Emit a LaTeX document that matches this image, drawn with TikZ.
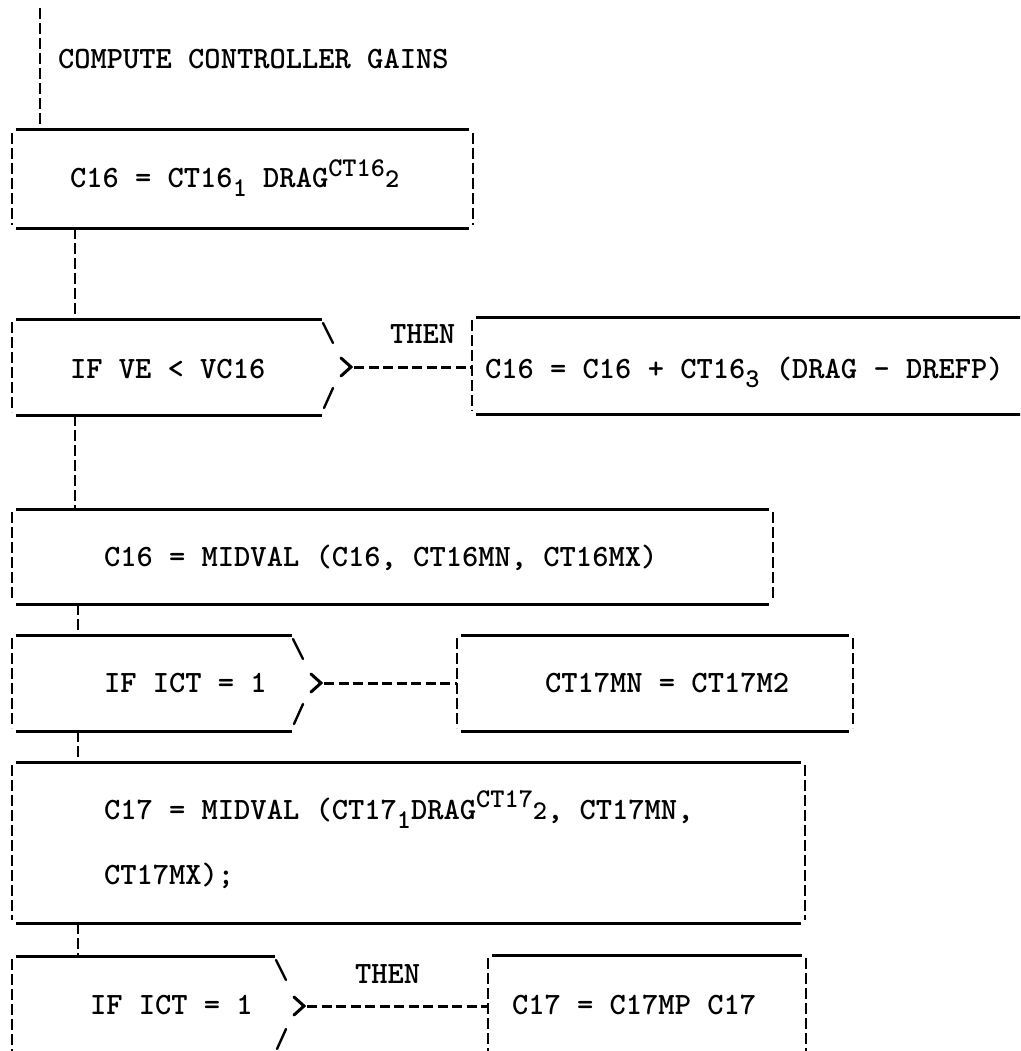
\documentclass[tikz,border=0pt]{standalone}
\usetikzlibrary{calc}
\newcommand\smallch[1]{{\fontsize{27}{27}\selectfont #1}}
\newcommand\lo[1]{\raisebox{-9pt}{\smallch{#1}}}
\newcommand\hi[1]{\raisebox{12pt}{\smallch{#1}}}
\tikzset{
  hrule/.style={line width=3pt, shorten <=4pt, shorten >=4pt},
  vside/.style={line width=2.2pt, dash pattern=on 11pt off 4pt, shorten <=3pt, shorten >=3pt},
  link/.style={line width=2.2pt, dash pattern=on 11pt off 4pt},
  branch/.style={line width=3pt, dash pattern=on 10pt off 4.5pt},
  glyph/.style={line width=2.4pt, line cap=round},
  region/.style={rectangle, inner sep=0pt, outer sep=0pt, anchor=north west},
  lbl/.style={inner sep=0pt, outer sep=0pt, anchor=base west, font=\ttfamily\bfseries\fontsize{31}{36}\selectfont},
}
\begin{document}
\begin{tikzpicture}[x=1pt,y=-1pt]
\useasboundingbox (0,0) rectangle (1020,1051);
\clip (0,0) rectangle (1020,1051);
\fill[white] (0,0) rectangle (1020,1051);

% regions
\node[region, minimum width=461pt, minimum height=98pt] (b1) at (12,130) {};
\node[region, minimum width=310pt, minimum height=96pt] (d2) at (12,319) {};
\node[region, minimum width=560pt, minimum height=97pt] (r2) at (472,317) {};
\node[region, minimum width=761pt, minimum height=95pt] (b3) at (12,509) {};
\node[region, minimum width=280pt, minimum height=96pt] (d4) at (12,635) {};
\node[region, minimum width=396pt, minimum height=96pt] (r4) at (457,635) {};
\node[region, minimum width=793pt, minimum height=161pt] (b5) at (12,762) {};
\node[region, minimum width=263pt, minimum height=100pt] (d6) at (12,956) {};
\node[region, minimum width=318pt, minimum height=110pt] (r6) at (488,955) {};

% full boxes
\foreach \b in {b1,b3,r4,b5}{
  \draw[hrule] (\b.north west) -- (\b.north east);
  \draw[hrule] (\b.south west) -- (\b.south east);
  \draw[vside] (\b.north west) -- (\b.south west);
  \draw[vside] (\b.north east) -- (\b.south east);
}
% open right box (row 2)
\draw[hrule] (r2.north west) -- (r2.north east);
\draw[hrule] (r2.south west) -- (r2.south east);
\draw[vside] (r2.north west) -- (r2.south west);
% open right box (row 6)
\draw[hrule] (r6.north west) -- (r6.north east);
\draw[vside] (r6.north west) -- (r6.south west);
\draw[vside] (r6.north east) -- (r6.south east);

% decision boxes
\foreach \d in {d2,d4,d6}{
  \draw[hrule, shorten >=0pt] (\d.north west) -- (\d.north east);
  \draw[hrule, shorten >=0pt] (\d.south west) -- (\d.south east);
  \draw[vside] (\d.north west) -- (\d.south west);
  \draw[glyph] ([shift={(1,4)}]\d.north east) -- ([shift={(11,24)}]\d.north east);
  \draw[glyph, line width=3pt, line join=miter] ([shift={(19,-9)}]\d.east) -- ([shift={(29,0)}]\d.east) -- ([shift={(19,9)}]\d.east);
  \draw[glyph] ([shift={(11,-27)}]\d.south east) -- ([shift={(2,-7)}]\d.south east);
}

% branches
\draw[branch] ([xshift=32pt]d2.east) -- (d2.east -| r2.west);
\draw[branch] ([xshift=32pt]d4.east) -- (d4.east -| r4.west);
\draw[branch] ([xshift=32pt]d6.east) -- (d6.east -| r6.west);

% flow links
\coordinate (start) at (40,8);
\draw[link] (start) -- (start |- b1.north);
\draw[link] ([xshift=63pt]b1.south west) -- ([xshift=63pt]b1.south west |- d2.north);
\draw[link] ([xshift=63pt]d2.south west) -- ([xshift=63pt]d2.south west |- b3.north);
\draw[link] ([xshift=66pt]b3.south west) -- ([xshift=66pt]b3.south west |- d4.north);
\draw[link] ([xshift=66pt]d4.south west) -- ([xshift=66pt]d4.south west |- b5.north);
\draw[link] ([xshift=66pt]b5.south west) -- ([xshift=66pt]b5.south west |- d6.north);

% texts
\node[lbl] (title) at (58,69) {COMPUTE CONTROLLER GAINS};
\node[lbl] (t1) at (70,188) {C16 = CT16\lo{1} DRAG\hi{CT16}\smallch{2}};
\node[lbl] (t2) at (70,378) {IF VE < VC16};
\node[lbl] (then2) at (390,343) {THEN};
\node[lbl] (t2r) at (485,378) {C16 = C16 + CT16\lo{3} (DRAG - DREFP)};
\node[lbl] (t3) at (104,566) {C16 = MIDVAL (C16, CT16MN, CT16MX)};
\node[lbl] (t4) at (104,692) {IF ICT = 1};
\node[lbl] (t4r) at (545,692) {CT17MN = CT17M2};
\node[lbl] (t5a) at (104,819) {C17 = MIDVAL (CT17\lo{1}DRAG\hi{CT17}\smallch{2}, CT17MN,};
\node[lbl] (t5b) at (104,884) {CT17MX);};
\node[lbl] (t6) at (90,1014) {IF ICT = 1};
\node[lbl] (then6) at (355,983) {THEN};
\node[lbl] (t6r) at (512,1014) {C17 = C17MP C17};
\end{tikzpicture}
\end{document}
